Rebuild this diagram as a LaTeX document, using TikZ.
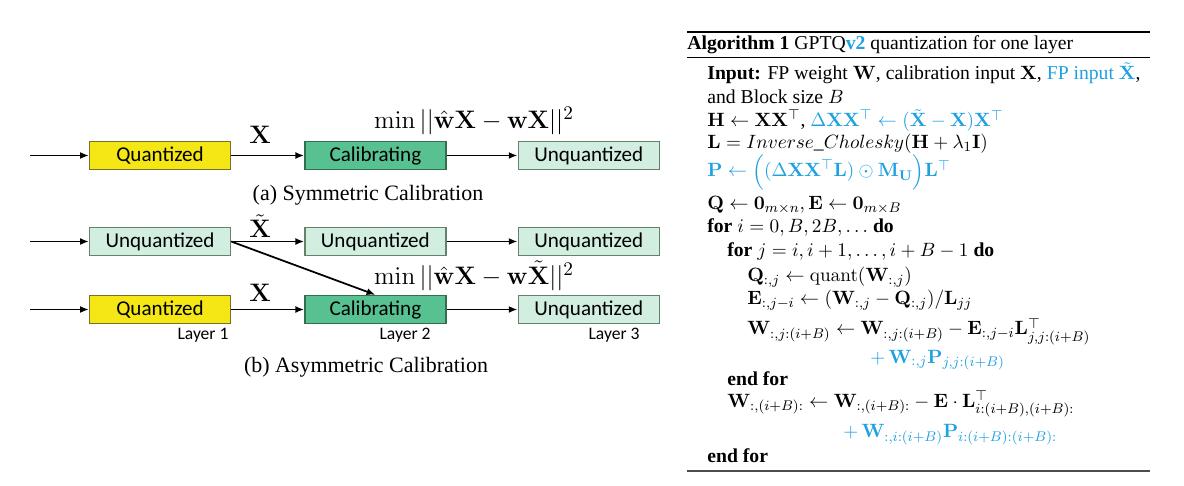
\documentclass[tikz,border=0pt]{standalone}
\usepackage{amsmath,amssymb}
\usepackage[no-math]{fontspec}
\setmainfont{Liberation Serif}
\newfontfamily\calibri{Carlito}
\usetikzlibrary{arrows.meta, positioning}
\usepackage{xcolor}
\definecolor{quantyellow}{RGB}{245,230,22}
\definecolor{quantedge}{RGB}{120,112,40}
\definecolor{calibgreen}{RGB}{88,193,145}
\definecolor{calibedge}{RGB}{52,110,80}
\definecolor{unqgreen}{RGB}{209,238,224}
\definecolor{unqedge}{RGB}{100,130,105}
\definecolor{algoblue}{RGB}{30,160,225}
\newcommand{\nb}[1]{\textcolor{algoblue}{#1}}

\begin{document}
\begin{tikzpicture}[
  x=0.02cm, y=-0.02cm,
  block/.style={rectangle, line width=0.8pt, minimum width=2.82cm, minimum height=0.56cm, inner sep=0pt, font=\calibri\fontsize{12}{14}\selectfont},
  quant/.style={block, draw=quantedge, fill=quantyellow},
  calib/.style={block, draw=calibedge, fill=calibgreen},
  unq/.style={block, draw=unqedge, fill=unqgreen},
  arrow/.style={-{Latex[length=5pt,width=4pt]}, line width=1pt},
  lbl/.style={font=\fontsize{15}{17}\selectfont, inner sep=0pt},
  layer/.style={font=\calibri\fontsize{10}{12}\selectfont, inner sep=0pt},
  subcap/.style={font=\fontsize{12.5}{15}\selectfont, inner sep=0pt},
  algo/.style={anchor=base west, inner sep=0pt, font=\fontsize{11.2}{13}\selectfont},
]
  \useasboundingbox (0,0) rectangle (1184,486);

  % (a) symmetric
  \node[quant] (qa) at (160,155.5) {Quantized};
  \node[calib, right=1.46cm of qa] (ca) {Calibrating};
  \node[unq, right=1.42cm of ca] (ua) {Unquantized};
  \coordinate (ina) at (30,155.5);
  \draw[arrow] (ina) -- (qa);
  \draw[arrow] (qa) -- (ca);
  \draw[arrow] (ca) -- (ua);
  \node[lbl] (xa) at (260,135) {$\mathbf{X}$};
  \node[lbl] (mina) at (474,121) {$\min||\hat{\mathbf{w}}\mathbf{X}-\mathbf{w}\mathbf{X}||^2$};
  \node[subcap] (capa) at (368,195) {(a) Symmetric Calibration};

  % (b) asymmetric
  \node[unq] (ub1) at (160,241.5) {Unquantized};
  \node[unq, right=1.46cm of ub1] (ub2) {Unquantized};
  \node[unq, right=1.42cm of ub2] (ub3) {Unquantized};
  \node[quant] (qb) at (160,309.5) {Quantized};
  \node[calib, right=1.46cm of qb] (cb) {Calibrating};
  \node[unq, right=1.42cm of cb] (ub4) {Unquantized};
  \coordinate (inb1) at (30,241.5);
  \coordinate (inb2) at (30,309.5);
  \draw[arrow] (inb1) -- (ub1);
  \draw[arrow] (ub1) -- (ub2);
  \draw[arrow] (ub2) -- (ub3);
  \draw[arrow] (ub1.east) -- (cb.north);
  \draw[arrow] (inb2) -- (qb);
  \draw[arrow] (qb) -- (cb);
  \draw[arrow] (cb) -- (ub4);
  \node[lbl] (xt) at (260,226) {$\tilde{\mathbf{X}}$};
  \node[lbl] (xb) at (260,293) {$\mathbf{X}$};
  \node[lbl] (minb) at (474,276) {$\min||\hat{\mathbf{w}}\mathbf{X}-\mathbf{w}\tilde{\mathbf{X}}||^2$};
  \node[layer] (lay1) at (203,335) {Layer 1};
  \node[layer] (lay2) at (405,335) {Layer 2};
  \node[layer] (lay3) at (614,335) {Layer 3};
  \node[subcap] (capb) at (366,367) {(b) Asymmetric Calibration};

  % algorithm
  \draw[line width=1.1pt] (687,32) -- (1150,32);
  \draw[line width=0.5pt] (687,57.5) -- (1150,57.5);
  \draw[line width=1pt, black!70] (687,471) -- (1150,471);
  \node[algo] (a0) at (687,50) {\textbf{Algorithm 1} GPTQ\nb{\textbf{v2}} quantization for one layer};
  \node[algo] (a1) at (707,80) {\textbf{Input:} FP weight $\mathbf{W}$, calibration input $\mathbf{X}$, \nb{FP input $\tilde{\mathbf{X}}$},};
  \node[algo] (a2) at (707,104) {and Block size $B$};
  \node[algo] (a3) at (707,127) {$\mathbf{H}\leftarrow\mathbf{XX}^\top$, \nb{$\Delta\mathbf{XX}^\top\leftarrow(\tilde{\mathbf{X}}-\mathbf{X})\mathbf{X}^\top$}};
  \node[algo] (a4) at (707,149) {$\mathbf{L}=Inverse\_Cholesky(\mathbf{H}+\lambda_1\mathbf{I})$};
  \node[algo] (a5) at (707,177) {\nb{$\mathbf{P}\leftarrow\Big((\Delta\mathbf{XX}^\top\mathbf{L})\odot\mathbf{M}_{\mathbf{U}}\Big)\mathbf{L}^\top$}};
  \node[algo] (a6) at (707,210) {$\mathbf{Q}\leftarrow\mathbf{0}_{m\times n},\mathbf{E}\leftarrow\mathbf{0}_{m\times B}$};
  \node[algo] (a7) at (707,233) {\textbf{for} $i=0,B,2B,\ldots$ \textbf{do}};
  \node[algo] (a8) at (727,257) {\textbf{for} $j=i,i+1,\ldots,i+B-1$ \textbf{do}};
  \node[algo] (a9) at (747,282) {$\mathbf{Q}_{:,j}\leftarrow\mathrm{quant}(\mathbf{W}_{:,j})$};
  \node[algo] (a10) at (747,305) {$\mathbf{E}_{:,j-i}\leftarrow(\mathbf{W}_{:,j}-\mathbf{Q}_{:,j})/\mathbf{L}_{jj}$};
  \node[algo] (a11) at (747,335) {$\mathbf{W}_{:,j:(i+B)}\leftarrow\mathbf{W}_{:,j:(i+B)}-\mathbf{E}_{:,j-i}\mathbf{L}^\top_{j,j:(i+B)}$};
  \node[algo] (a12) at (870,363) {\nb{$+\,\mathbf{W}_{:,j}\mathbf{P}_{j,j:(i+B)}$}};
  \node[algo] (a13) at (727,385) {\textbf{end for}};
  \node[algo] (a14) at (727,407) {$\mathbf{W}_{:,(i+B):}\leftarrow\mathbf{W}_{:,(i+B):}-\mathbf{E}\cdot\mathbf{L}^\top_{i:(i+B),(i+B):}$};
  \node[algo] (a15) at (843,438) {\nb{$+\,\mathbf{W}_{:,i:(i+B)}\mathbf{P}_{i:(i+B):(i+B):}$}};
  \node[algo] (a16) at (707,462) {\textbf{end for}};
\end{tikzpicture}
\end{document}
